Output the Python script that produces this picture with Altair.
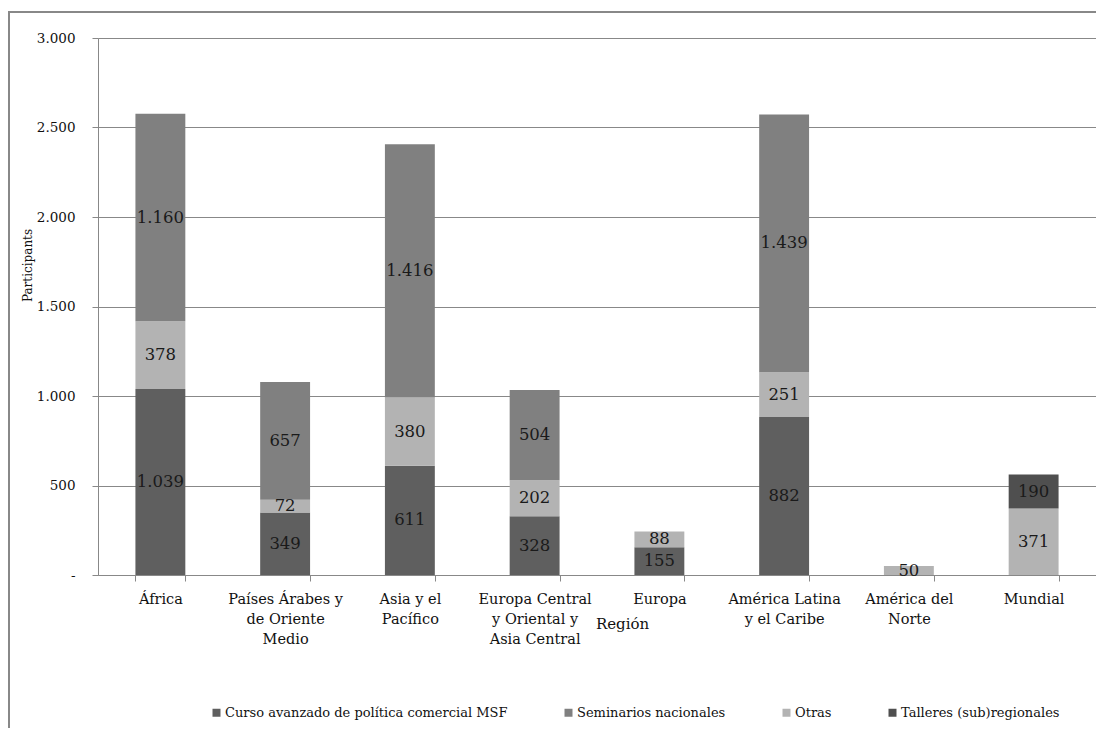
import altair as alt
import pandas as pd

regions = ["África", "Países Árabes y|de Oriente|Medio", "Asia y el|Pacífico",
           "Europa Central|y Oriental y|Asia Central", "Europa",
           "América Latina|y el Caribe", "América del|Norte", "Mundial"]
series = ["Curso avanzado de política comercial MSF", "Seminarios nacionales",
          "Otras", "Talleres (sub)regionales"]
stack_order = {series[0]: 0, series[2]: 1, series[1]: 2, series[3]: 3}
curso = [1039, 349, 611, 328, 155, 882, None, None]
seminarios = [1160, 657, 1416, 504, None, 1439, None, None]
otras = [378, 72, 380, 202, 88, 251, 50, 371]
talleres = [None, None, None, None, None, None, None, 190]
colors = ["#5f5f5f", "#808080", "#b3b3b3", "#4f4f4f"]

rows = []
for s, vals in zip(series, [curso, seminarios, otras, talleres]):
    for r, v in zip(regions, vals):
        if v is not None:
            rows.append({"region": r, "serie": s, "value": v,
                         "ord": stack_order[s],
                         "lbl": f"{v:,}".replace(",", ".")})
df = pd.DataFrame(rows)

font = "DejaVu Serif"

base = alt.Chart(df).transform_stack(
    stack="value", groupby=["region"], sort=[alt.SortField("ord")], as_=["y0", "y1"]
).transform_calculate(mid="(datum.y0 + datum.y1) / 2")

xenc = alt.X("region:N", sort=regions,
             scale=alt.Scale(paddingInner=0.6, paddingOuter=0.3),
             axis=alt.Axis(title="Región", labelAngle=0,
                           labelExpr="split(datum.label, '|')",
                           labelFont=font, labelFontSize=14.5, labelColor="#111",
                           labelPadding=11, labelLineHeight=20,
                           tickBand="extent", tickSize=6, tickColor="#888",
                           domainColor="#888", grid=False,
                           titleFont=font, titleFontSize=15, titleFontWeight="normal",
                           titleColor="#111", titleX=524, titleY=48,
                           titleAlign="center", titleBaseline="middle"))

bars = base.mark_bar().encode(
    x=xenc,
    y=alt.Y("y0:Q", scale=alt.Scale(domain=[0, 3000]),
            axis=alt.Axis(title="Participants", values=[0, 500, 1000, 1500, 2000, 2500, 3000],
                          labelExpr="datum.value == 0 ? '-' : replace(format(datum.value, ','), ',', '.')",
                          labelFont=font, labelFontSize=13.5, labelColor="#111", labelPadding=17,
                          tickSize=6, tickColor="#888", domainColor="#888",
                          gridColor="#888", gridWidth=1,
                          titleFont=font, titleFontSize=12, titleFontWeight="normal",
                          titleColor="#111", titleX=-71, titleY=227,
                          titleAlign="center", titleBaseline="middle", titleAngle=270)),
    y2="y1:Q",
    color=alt.Color("serie:N", sort=series,
                    scale=alt.Scale(domain=series, range=colors),
                    legend=alt.Legend(title=None, orient="none", direction="horizontal",
                                      legendX=112, legendY=668,
                                      symbolType="square", symbolSize=64,
                                      symbolStrokeWidth=0, columnPadding=54,
                                      labelFont=font, labelFontSize=13, labelColor="#111",
                                      labelOffset=2, labelLimit=0)),
    order=alt.Order("ord:Q"),
)

texts = base.mark_text(font=font, fontSize=16.5, color="#1a1a1a", baseline="middle").encode(
    x=alt.X("region:N", sort=regions),
    y=alt.Y("mid:Q"),
    text="lbl:N",
)

frame = alt.Chart(df).mark_rect(fill=None, stroke="#888", strokeWidth=1.5).encode(
    x=alt.value(-89), x2=alt.value(1100), y=alt.value(-26), y2=alt.value(760)
)

chart = alt.layer(frame, bars, texts).properties(
    width=998, height=537,
    autosize=alt.AutoSizeParams(type="none"),
    padding={"left": 90, "top": 30, "right": 0, "bottom": 153},
).configure_view(stroke=None).configure(background="white", font=font)

chart.save("out.html", embed_options={"renderer": "svg", "actions": False})
